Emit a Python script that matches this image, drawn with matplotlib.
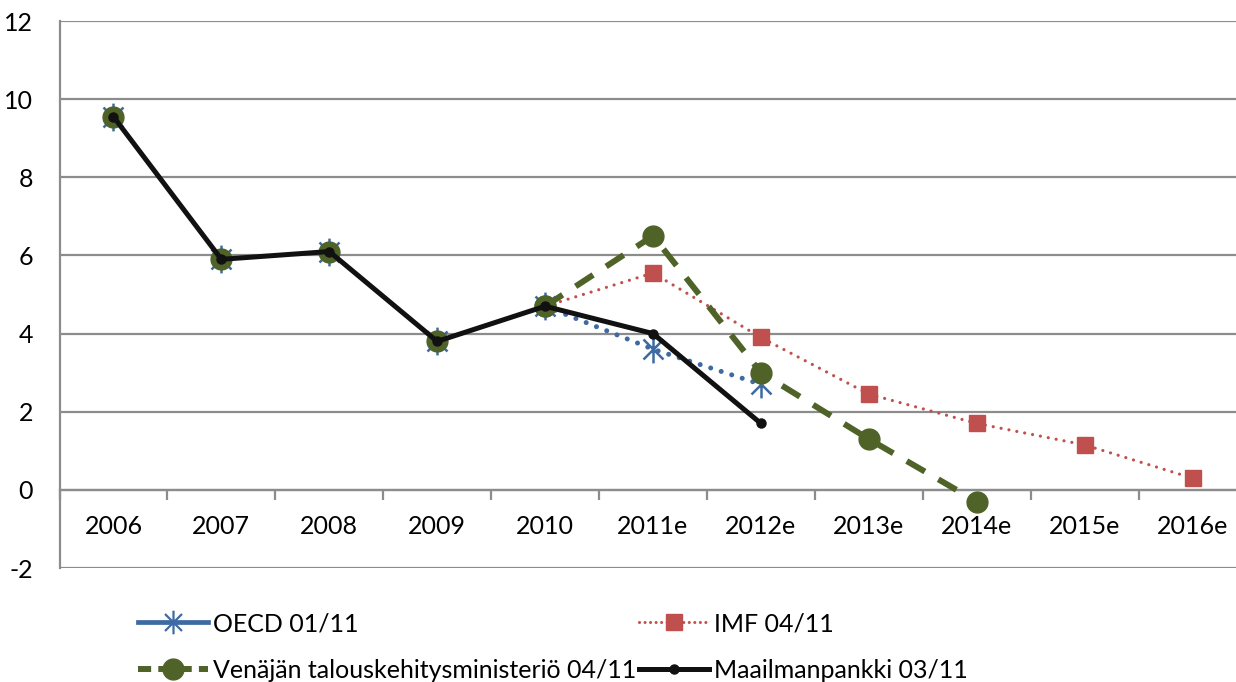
import numpy as np
import matplotlib.pyplot as plt
from matplotlib.lines import Line2D
from matplotlib.path import Path

plt.rcParams['font.family'] = ['Lato', 'DejaVu Sans']
plt.rcParams['axes.unicode_minus'] = False

# Categories and values
years = ["2006", "2007", "2008", "2009", "2010",
         "2011e", "2012e", "2013e", "2014e", "2015e", "2016e"]
history = [9.55, 5.9, 6.1, 3.8, 4.7]          # 2006-2010, shared by all series
oecd_fc = [3.6, 2.7]                           # 2011e-2012e
imf_fc = [5.55, 3.9, 2.45, 1.7, 1.15, 0.3]     # 2011e-2016e
venaja_fc = [6.5, 3.0, 1.3, -0.3]              # 2011e-2014e
wb_fc = [4.0, 1.7]                             # 2011e-2012e

labels = ["OECD 01/11", "IMF 04/11",
          "Venäjän talouskehitysministeriö 04/11", "Maailmanpankki 03/11"]

c_blue = "#3d6aa3"
c_red = "#c0504d"
c_green = "#4f6228"
c_black = "#111111"
c_grid = "#8c8c8c"

# Excel-style asterisk: vertical bar plus an X
ast = Path([(0, -1), (0, 1), (-0.72, -0.72), (0.72, 0.72), (-0.72, 0.72), (0.72, -0.72)],
           [Path.MOVETO, Path.LINETO, Path.MOVETO, Path.LINETO, Path.MOVETO, Path.LINETO])

x = np.arange(len(years))
nh = len(history)


def forecast(fc):
    # forecast part starts from the last observed year
    xs = x[nh - 1:nh + len(fc)]
    ys = [history[-1]] + list(fc)
    return xs, ys


fig = plt.figure(figsize=(12.36, 6.82), dpi=100)
# plot area runs slightly past the right edge, as in the cropped original
ax = fig.add_axes([59.5 / 1236, 1 - 568 / 682, 1187 / 1236, 547 / 682])

dotted_blue = (0, (0.01, 2.2))
dotted_red = (0, (0.01, 2.5))
dashed_green = (0, (3.5, 2.6))

# OECD
ax.plot(x[:nh], history, ls="none", marker=ast, ms=20, mew=1.8,
        mec=c_blue, zorder=3)
xs, ys = forecast(oecd_fc)
ax.plot(xs, ys, color=c_blue, lw=3.6, ls=dotted_blue, dash_capstyle="round",
        marker=ast, ms=20, mew=1.8, mec=c_blue, markevery=list(range(1, len(ys))),
        zorder=3)

# IMF
xs, ys = forecast(imf_fc)
ax.plot(xs, ys, color=c_red, lw=2.3, ls=dotted_red, dash_capstyle="round",
        marker="s", ms=11, mec=c_red, mfc=c_red,
        markevery=list(range(1, len(ys))), zorder=4)

# Venäjän talouskehitysministeriö
ax.plot(x[:nh], history, ls="none", marker="o", ms=15, color=c_green, zorder=5)
xs, ys = forecast(venaja_fc)
ax.plot(xs, ys, color=c_green, lw=4.3, ls=dashed_green, marker="o", ms=15,
        zorder=5)

# Maailmanpankki
ax.plot(x[:nh + len(wb_fc)], history + wb_fc, color=c_black, lw=3.6,
        marker="o", ms=6.5, zorder=6, solid_joinstyle="round")

# Axes styling
ax.set_xlim(-0.5, len(years) - 0.5)
ax.set_ylim(-2, 12)
ax.set_yticks(np.arange(-2, 13, 2))
ax.yaxis.grid(True, color=c_grid, lw=1.6)
ax.set_axisbelow(True)

for s in ["top", "right"]:
    ax.spines[s].set_visible(False)
ax.spines["left"].set_color(c_grid)
ax.spines["left"].set_linewidth(1.6)
ax.spines["bottom"].set_position(("data", 0))
ax.spines["bottom"].set_color(c_grid)
ax.spines["bottom"].set_linewidth(1.6)

ax.set_xticks(x)
ax.set_xticklabels(years)
ax.set_xticks(np.arange(-0.5, len(years), 1.0), minor=True)
ax.tick_params(axis="x", which="major", length=0, pad=18, labelsize=18)
ax.tick_params(axis="x", which="minor", length=7, width=1.6, color=c_grid,
               direction="out")
ax.tick_params(axis="y", length=0, pad=19, labelsize=18)

# Legend
h_oecd = Line2D([], [], color=c_blue, lw=3.4, marker=ast, ms=17, mew=1.6, mec=c_blue)
h_imf = Line2D([], [], color=c_red, lw=2.2, ls=(0, (0.01, 1.8)),
               dash_capstyle="round", marker="s", ms=11, mec=c_red, mfc=c_red)
h_ven = Line2D([], [], color=c_green, lw=4.3, ls=(0, (2.2, 1.2)),
               marker="o", ms=15)
h_wb = Line2D([], [], color=c_black, lw=3.6, marker="o", ms=6.5)

fig.legend([h_oecd, h_ven, h_imf, h_wb],
           [labels[0], labels[2], labels[1], labels[3]],
           ncol=2, loc="upper left", bbox_to_anchor=(138 / 1236, 1 - 612 / 682),
           frameon=False, fontsize=18, handlelength=2.8, handletextpad=0.2,
           columnspacing=0.1, labelspacing=0.95, borderpad=0, borderaxespad=0)

fig.savefig("out.png", dpi=100)
